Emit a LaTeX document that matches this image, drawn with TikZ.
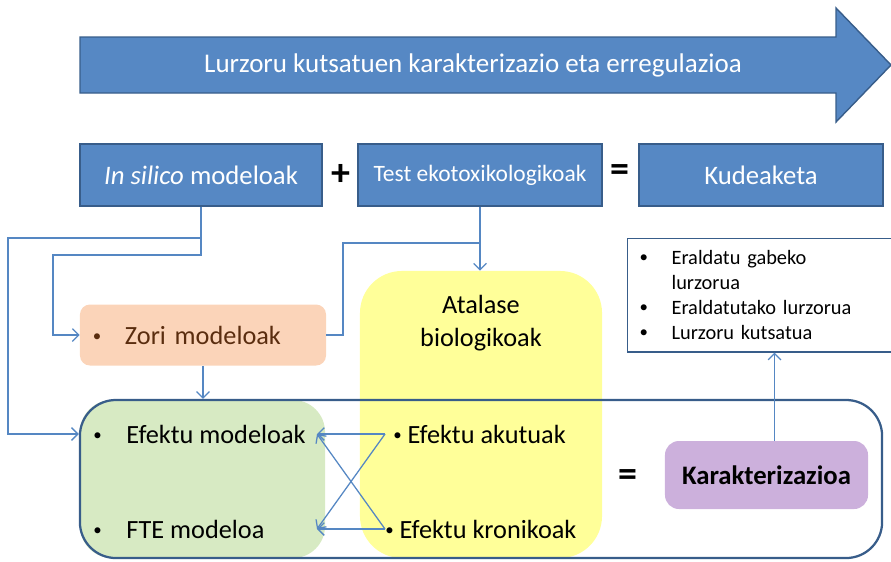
\documentclass[tikz,border=0pt]{standalone}
\usepackage{fontspec}
\setmainfont{Carlito}
\usetikzlibrary{positioning}
\usetikzlibrary{arrows.meta}

\definecolor{boxblue}{RGB}{86,136,196}
\definecolor{boxedge}{RGB}{56,93,138}
\definecolor{linkblue}{RGB}{85,135,195}
\definecolor{peach}{RGB}{251,212,185}
\definecolor{zoritext}{RGB}{90,45,15}
\definecolor{lightyellow}{RGB}{255,255,153}
\definecolor{lightgreen}{RGB}{215,234,195}
\definecolor{lavender}{RGB}{204,176,220}

\newcommand{\itemdot}{{\fontsize{12}{12}\selectfont\raisebox{1.5pt}{\textbullet}}}

\begin{document}
\begin{tikzpicture}[
	x=0.025cm, y=-0.025cm,
	bluebox/.style={draw=boxedge, line width=1pt, fill=boxblue, text=white, minimum height=1.55cm, font=\fontsize{19}{22}\selectfont},
	link/.style={draw=linkblue, line width=0.9pt},
	arr/.style={link, -{Straight Barb[length=1.6mm, width=3.2mm]}},
	item/.style={inner sep=0, anchor=west, font=\fontsize{18.7}{22}\selectfont},
	sign/.style={inner sep=0, font=\fontsize{27}{27}\selectfont\bfseries}
	]
	\useasboundingbox (0,0) rectangle (891,561);
	
	% Title arrow
	\path[fill=boxblue, draw=boxedge, line width=1pt] (80,37) -- (836,37) -- (836,8) -- (891,65) -- (836,122) -- (836,93) -- (80,93) -- cycle;
	\node[text=white, font=\fontsize{19.2}{22}\selectfont] (title) at (473,65) {Lurzoru kutsatuen karakterizazio eta erregulazioa};
	
	% Top row
	\node[bluebox, minimum width=6.05cm] (insilico) at (201,175) {\textit{In silico} modeloak};
	\node[sign] (plus) at (341,175) {+};
	\node[bluebox, minimum width=6.1cm, font=\fontsize{16.7}{20}\selectfont] (test) at (480,175) {Test ekotoxikologikoak};
	\node[sign] (equal) at (620,173) {=};
	\node[bluebox, minimum width=6.1cm] (kude) at (761,175) {Kudeaketa};
	
	% Soil list
	\node[draw=boxedge, line width=0.8pt, anchor=north west, inner xsep=0.3cm, inner ysep=0.3cm, text width=6cm, align=left, font=\fontsize{14.5}{17.8}\selectfont] (list) at (627,238) {\makebox[0.8cm][l]{\itemdot}Eraldatu gabeko\\\hspace*{0.8cm}lurzorua\\\makebox[0.8cm][l]{\itemdot}Eraldatutako lurzorua\\\makebox[0.8cm][l]{\itemdot}Lurzoru kutsatua};
	
	% Zori
	\node[fill=peach, rounded corners=0.25cm, minimum height=1.525cm, text width=5.5cm, inner xsep=0.325cm, align=left, text=zoritext, font=\fontsize{18.7}{22}\selectfont] (zori) at (203,335) {\makebox[0.8cm][l]{\itemdot}Zori modeloak};
	
	% Characterisation block
	\node[fill=lightgreen, rounded corners=0.8cm, minimum width=6.125cm, minimum height=3.95cm] (efektubox) at (202.5,479) {};
	\node[fill=lightyellow, rounded corners=1.05cm, minimum width=6.05cm, minimum height=7.175cm] (atalasebox) at (481,414.5) {};
	\node[draw=boxedge, line width=1.6pt, rounded corners=0.9cm, minimum width=20.05cm, minimum height=3.95cm] (frame) at (481,479) {};
	\node[align=center, font=\fontsize{18.7}{23.5}\selectfont] (atalase) at (481,323) {Atalase\\biologikoak};
	
	\node[item] (efmod) at (93,434) {\makebox[0.83cm][l]{\itemdot}Efektu modeloak};
	\node[item] (fte) at (93,529) {\makebox[0.83cm][l]{\itemdot}FTE modeloa};
	\node[item] (akutu) at (385,434) {\hspace{0.2cm}\itemdot\ Efektu akutuak};
	\node[item] (kroniko) at (385,529) {\itemdot\ Efektu kronikoak};
	
	\node[sign] (equal2) at (628,478) {=};
	\node[fill=lavender, rounded corners=0.35cm, minimum width=5.075cm, minimum height=1.7cm, font=\fontsize{19}{22}\selectfont\bfseries] (kara) at (766.5,475) {Karakterizazioa};
	
	% Connectors
	\coordinate (efmodin) at (317,434);
	\coordinate (ftein) at (317,529);
	\coordinate (testjoin) at (480,243);
	\draw[arr] (insilico.south) |- (8,238) |- (efmod -| frame.west);
	\draw[arr] (insilico.south) |- (53,255) |- (zori.west);
	\draw[arr] (test.south) -- (test.south |- atalasebox.north);
	\draw[link] (zori.east) -| (343,243) -- (testjoin);
	\draw[arr] (zori.south) -- (zori.south |- frame.north);
	\draw[arr] (akutu.west) -- (efmodin);
	\draw[arr] (akutu.west) -- (ftein);
	\draw[arr] (kroniko.west) -- (ftein);
	\draw[arr] (kroniko.west) -- (efmodin);
	\draw[arr] ([xshift=0.2cm]kara.north) -- ([xshift=0.2cm]kara.north |- list.south);
\end{tikzpicture}
\end{document}
